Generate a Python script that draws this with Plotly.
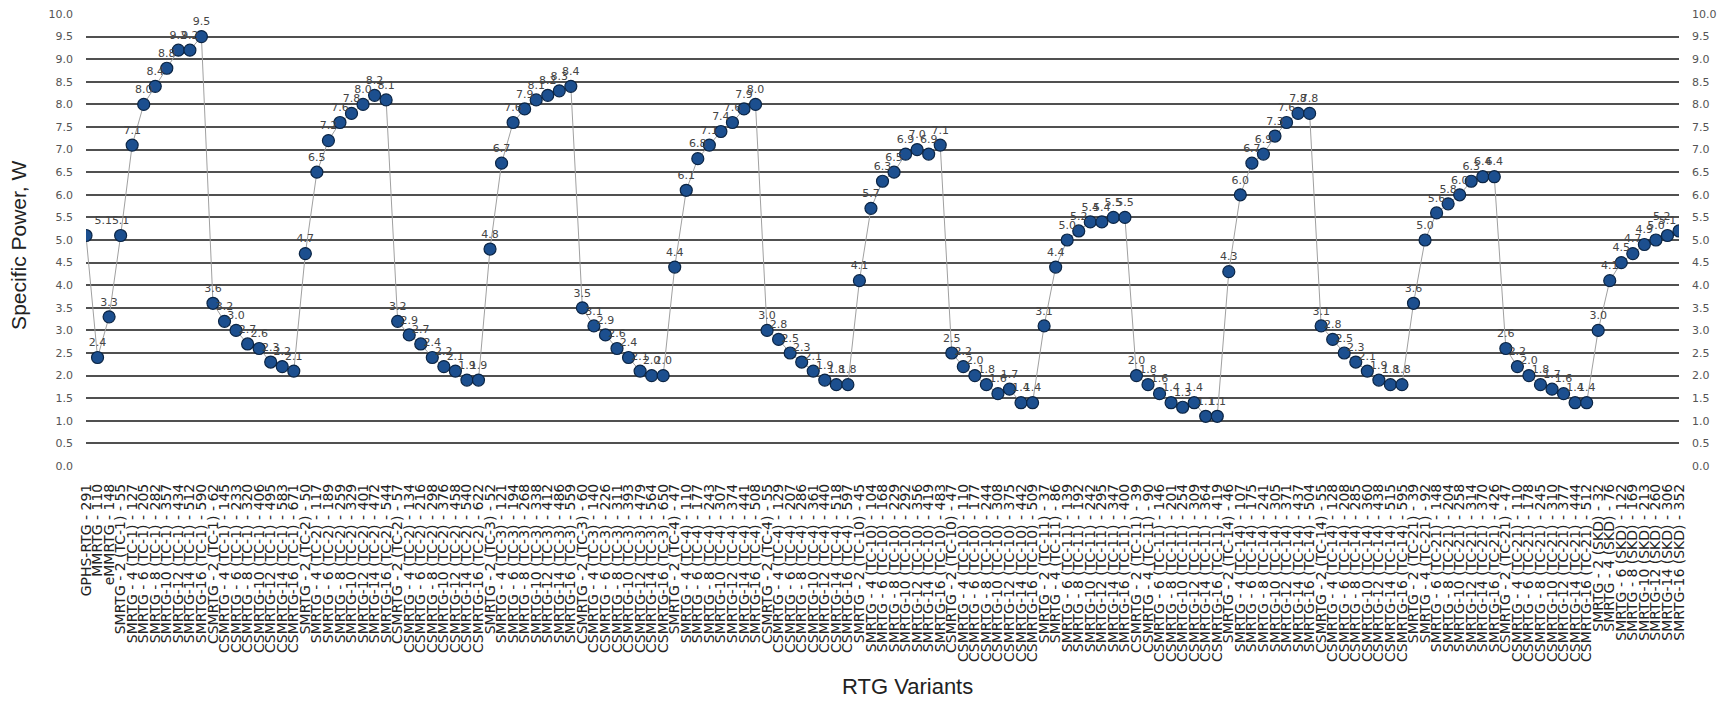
import plotly.graph_objects as go

# ---------------- data ----------------
base_names = ["GPHS-RTG", "MMRTG", "eMMRTG"]
base_mass = [291, 110, 148]
base_power = [5.1, 2.4, 3.3]

module_counts = [2, 4, 6, 8, 10, 12, 14, 16]

tc1_s_mass = [55, 127, 205, 282, 357, 434, 512, 590]
tc1_s_pow = [5.1, 7.1, 8.0, 8.4, 8.8, 9.2, 9.2, 9.5]
tc1_c_mass = [62, 145, 233, 320, 406, 495, 583, 671]
tc1_c_pow = [3.6, 3.2, 3.0, 2.7, 2.6, 2.3, 2.2, 2.1]

tc2_s_mass = [50, 117, 189, 259, 329, 401, 472, 544]
tc2_s_pow = [4.7, 6.5, 7.2, 7.6, 7.8, 8.0, 8.2, 8.1]
tc2_c_mass = [57, 134, 216, 298, 376, 458, 540, 622]
tc2_c_pow = [3.2, 2.9, 2.7, 2.4, 2.2, 2.1, 1.9, 1.9]

tc3_s_mass = [52, 121, 194, 268, 338, 412, 486, 559]
tc3_s_pow = [4.8, 6.7, 7.6, 7.9, 8.1, 8.2, 8.3, 8.4]
tc3_c_mass = [60, 140, 226, 311, 393, 479, 564, 650]
tc3_c_pow = [3.5, 3.1, 2.9, 2.6, 2.4, 2.1, 2.0, 2.0]

tc4_s_mass = [47, 110, 177, 243, 307, 374, 441, 508]
tc4_s_pow = [4.4, 6.1, 6.8, 7.1, 7.4, 7.6, 7.9, 8.0]
tc4_c_mass = [55, 129, 207, 286, 361, 440, 518, 597]
tc4_c_pow = [3.0, 2.8, 2.5, 2.3, 2.1, 1.9, 1.8, 1.8]

tc10_s_mass = [45, 104, 168, 229, 292, 356, 419, 483]
tc10_s_pow = [4.1, 5.7, 6.3, 6.5, 6.9, 7.0, 6.9, 7.1]
tc10_c_mass = [47, 110, 177, 244, 308, 375, 442, 509]
tc10_c_pow = [2.5, 2.2, 2.0, 1.8, 1.6, 1.7, 1.4, 1.4]

tc11_s_mass = [37, 86, 139, 192, 242, 295, 347, 400]
tc11_s_pow = [3.1, 4.4, 5.0, 5.2, 5.4, 5.4, 5.5, 5.5]
tc11_c_mass = [39, 90, 146, 201, 254, 309, 364, 419]
tc11_c_pow = [2.0, 1.8, 1.6, 1.4, 1.3, 1.4, 1.1, 1.1]

tc14_s_mass = [46, 107, 175, 241, 305, 371, 437, 504]
tc14_s_pow = [4.3, 6.0, 6.7, 6.9, 7.3, 7.6, 7.8, 7.8]
tc14_c_mass = [55, 128, 208, 285, 360, 438, 515, 595]
tc14_c_pow = [3.1, 2.8, 2.5, 2.3, 2.1, 1.9, 1.8, 1.8]

tc21_s_mass = [39, 92, 148, 204, 258, 314, 370, 426]
tc21_s_pow = [3.6, 5.0, 5.6, 5.8, 6.0, 6.3, 6.4, 6.4]
tc21_c_mass = [47, 110, 178, 245, 310, 377, 444, 512]
tc21_c_pow = [2.6, 2.2, 2.0, 1.8, 1.7, 1.6, 1.4, 1.4]

skd_s_mass = [32, 76, 122, 169, 213, 260, 306, 352]
skd_s_pow = [3.0, 4.1, 4.5, 4.7, 4.9, 5.0, 5.1, 5.2]

groups = [
    ("SMRTG", "TC-1", tc1_s_mass, tc1_s_pow), ("CSMRTG", "TC-1", tc1_c_mass, tc1_c_pow),
    ("SMRTG", "TC-2", tc2_s_mass, tc2_s_pow), ("CSMRTG", "TC-2", tc2_c_mass, tc2_c_pow),
    ("SMRTG", "TC-3", tc3_s_mass, tc3_s_pow), ("CSMRTG", "TC-3", tc3_c_mass, tc3_c_pow),
    ("SMRTG", "TC-4", tc4_s_mass, tc4_s_pow), ("CSMRTG", "TC-4", tc4_c_mass, tc4_c_pow),
    ("SMRTG", "TC-10", tc10_s_mass, tc10_s_pow), ("CSMRTG", "TC-10", tc10_c_mass, tc10_c_pow),
    ("SMRTG", "TC-11", tc11_s_mass, tc11_s_pow), ("CSMRTG", "TC-11", tc11_c_mass, tc11_c_pow),
    ("SMRTG", "TC-14", tc14_s_mass, tc14_s_pow), ("CSMRTG", "TC-14", tc14_c_mass, tc14_c_pow),
    ("SMRTG", "TC-21", tc21_s_mass, tc21_s_pow), ("CSMRTG", "TC-21", tc21_c_mass, tc21_c_pow),
    ("SMRTG", "SKD", skd_s_mass, skd_s_pow),
]

# ---------------- build categories ----------------
cats = [f"{n} - {m}" for n, m in zip(base_names, base_mass)]
vals = list(base_power)
for kind, tc, masses, powers in groups:
    for n, m, p in zip(module_counts, masses, powers):
        sep = " - " if n < 10 else "-"
        cats.append(f"{kind}{sep}{n} ({tc}) - {m}")
        vals.append(p)

text_pos = ["top center"] * len(vals)
text_pos[0] = "top right"
text_pos[-1] = "top left"

fig = go.Figure()
fig.add_trace(go.Scatter(
    x=cats, y=vals, mode="lines+markers+text",
    text=[f"{v:.1f}" for v in vals], textposition=text_pos,
    textfont=dict(family="DejaVu Sans", size=11, color="#444444"),
    line=dict(color="#a0a0a0", width=1),
    marker=dict(size=12, color="#1c4f8f", line=dict(color="#0b2545", width=1.2)),
    cliponaxis=True, showlegend=False, hoverinfo="x+y",
))
fig.add_trace(go.Scatter(x=cats, y=vals, yaxis="y2", mode="none",
                         showlegend=False, hoverinfo="skip"))

tickfont_y = dict(family="DejaVu Sans", size=11, color="#555555")
fig.update_layout(
    width=1736, height=728,
    margin=dict(l=86, r=57, t=14, b=262, autoexpand=False),
    paper_bgcolor="white", plot_bgcolor="white",
    xaxis=dict(
        type="category", range=[0, len(cats) - 1],
        tickmode="array", tickvals=cats, ticktext=cats,
        tickangle=-90, tickfont=dict(family="DejaVu Sans", size=14, color="#222222"),
        showgrid=False, showline=False, zeroline=False, ticks="",
        ticklabelstandoff=14, automargin=False,
    ),
    yaxis=dict(
        range=[0, 10], dtick=0.5, tick0=0, tickformat=".1f",
        showgrid=True, gridcolor="#505050", gridwidth=2,
        zeroline=False, showline=False, ticks="",
        tickfont=tickfont_y, ticklabelstandoff=12, automargin=False,
    ),
    yaxis2=dict(
        range=[0, 10], dtick=0.5, tick0=0, tickformat=".1f",
        overlaying="y", side="right", showgrid=False, zeroline=False,
        showline=False, ticks="", tickfont=tickfont_y,
        ticklabelstandoff=12, automargin=False,
    ),
    annotations=[
        dict(text="RTG Variants", xref="paper", yref="paper", x=0.516, y=0,
             xanchor="center", yanchor="middle", yshift=-220, showarrow=False,
             font=dict(family="Liberation Sans, Arial", size=22, color="#222222")),
        dict(text="Specific Power, W", xref="paper", yref="paper", x=0, y=0.487,
             xanchor="center", yanchor="middle", xshift=-67, textangle=-90,
             showarrow=False,
             font=dict(family="Liberation Sans, Arial", size=21, color="#222222")),
    ],
)

fig.write_html("out.html")
